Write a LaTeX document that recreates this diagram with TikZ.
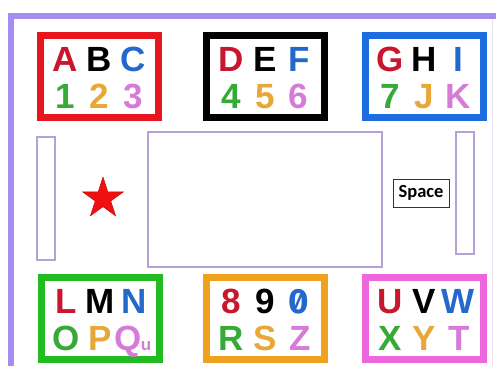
\documentclass[tikz,border=0pt]{standalone}
\usepackage{fontspec}
\setmainfont{Liberation Sans}
\newfontfamily\spacefont{Carlito}
\newfontfamily\zerofont[RawFeature=+zero]{Fira Sans}
\usetikzlibrary{shapes.geometric}
\definecolor{kred}{HTML}{C8162E}
\definecolor{kblue}{HTML}{2468CC}
\definecolor{kgreen}{HTML}{36AA36}
\definecolor{korange}{HTML}{E8A838}
\definecolor{kpink}{HTML}{D67CD8}
\definecolor{boxred}{HTML}{E8141E}
\definecolor{boxblue}{HTML}{1C6EE0}
\definecolor{boxgreen}{HTML}{22BB22}
\definecolor{boxorange}{HTML}{F0A21E}
\definecolor{boxpink}{HTML}{EE66DD}
\definecolor{myframe}{HTML}{A68CF0}
\definecolor{myslot}{HTML}{B4A2D6}
\definecolor{myedge}{HTML}{E8E2F2}
\definecolor{starred}{HTML}{EE1111}
\tikzset{
keybox/.style={
draw=#1,
line width=7pt,
minimum width=118pt,
minimum height=82pt,
inner sep=0pt
},
keychar/.style={
font=\fontsize{35}{35}\selectfont\bfseries,
anchor=base,
inner sep=0pt
},
slot/.style={
draw=myslot,
line width=1.8pt,
inner sep=0pt
},
spacekey/.style={
draw=black!80,
line width=0.8pt,
minimum width=56pt,
minimum height=28pt,
inner sep=0pt,
font=\spacefont\bfseries\fontsize{18.5}{18.5}\selectfont
},
frame/.style={
draw=myframe,
line width=6pt
}
}
\begin{document}
\begin{tikzpicture}[x=1pt,y=-1pt]
\useasboundingbox[fill=white] (0,0) rectangle (496,365);

% outer frame
\draw[draw=myedge, line width=1pt] (492,19) -- (492,370);
\draw[frame] (11,372) |- (500,16);

% letter boxes
\foreach \cx/\cy/\key/\bc/\dx/\ca/\cb/\cc/\cd/\ce/\cf in {
  99/76/abc/boxred/34/A/B/C/1/2/3,
  265/76/def/black/33/D/E/F/4/5/6,
  424/76/ghi/boxblue/34/G/H/I/7/J/K,
  100/318/lmn/boxgreen/28/L/M/N/O/P/Q,
  265/318/num/boxorange/35/8/9/{\zerofont 0}/R/S/Z,
  424/318/uvw/boxpink/35/U/V/W/X/Y/T}
{
  \node[keybox=\bc] (\key) at (\cx,\cy) {};
  \node[keychar, text=kred] (\key-1) at (\cx-34,\cy-5) {\ca};
  \node[keychar, text=black] (\key-2) at (\cx,\cy-5) {\cb};
  \node[keychar, text=kblue] (\key-3) at (\cx+34,\cy-5) {\cc};
  \node[keychar, text=kgreen] (\key-4) at (\cx-34,\cy+32) {\cd};
  \node[keychar, text=korange] (\key-5) at (\cx,\cy+32) {\ce};
  \node[keychar, text=kpink] (\key-6) at (\cx+\dx,\cy+32) {\cf};
}
\node[keychar, text=kpink, font=\fontsize{17}{17}\selectfont\bfseries] (lmn-u) at (146,350) {u};

% middle part
\node[slot, minimum width=18pt, minimum height=123pt] (leftslot) at (46,198.5) {};
\node[star, star points=5, star point ratio=2.618, fill=starred, draw=red!80!black, line width=0.4pt,
  minimum size=43pt, inner sep=0pt] (star) at (103,198.5) {};
\node[slot, minimum width=234pt, minimum height=135pt] (screen) at (265,199.5) {};
\node[spacekey] (space) at (421,193) {Space};
\node[slot, minimum width=18pt, minimum height=122pt] (rightslot) at (465,193) {};

\end{tikzpicture}
\end{document}
